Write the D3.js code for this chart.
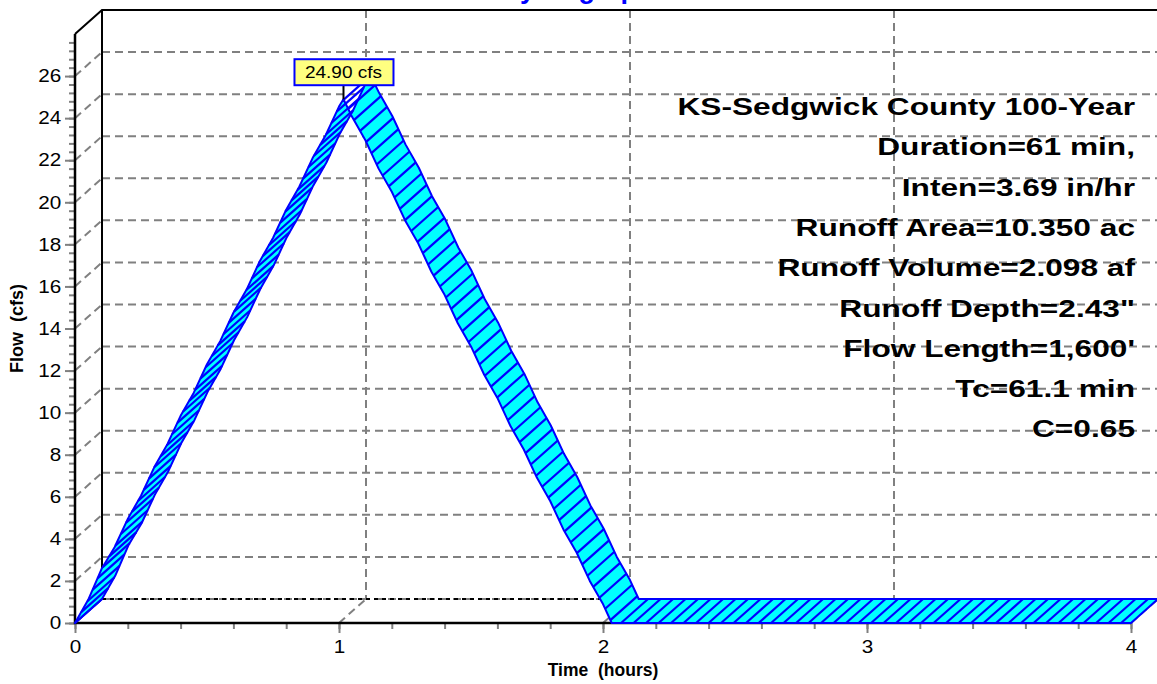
<!DOCTYPE html>
<html>
<head>
<meta charset="utf-8">
<script src="https://cdn.jsdelivr.net/npm/d3@7/dist/d3.min.js"></script>
<style>
body{margin:0;background:#fff;}
svg{display:block;}
text{font-family:Arial,"Liberation Sans",sans-serif;}
</style>
</head>
<body>
<script>
var width = 1157, height = 684;

// runoff hydrograph (hours, cfs)
var times = [0, 0.05, 0.10, 0.15, 0.20, 0.25, 0.30, 0.35, 0.40, 0.45, 0.50,
	0.55, 0.60, 0.65, 0.70, 0.75, 0.80, 0.85, 0.90, 0.95, 1.00, 1.017,
	1.05, 1.10, 1.15, 1.20, 1.25, 1.30, 1.35, 1.40, 1.45, 1.50, 1.55,
	1.60, 1.65, 1.70, 1.75, 1.80, 1.85, 1.90, 1.95, 2.00, 2.033, 4.00];
var flows = [0, 1.10, 2.55, 3.60, 4.95, 6.05, 7.40, 8.50, 9.85, 10.95, 12.30,
	13.40, 14.75, 15.85, 17.20, 18.30, 19.65, 20.75, 22.10, 23.20, 24.55, 24.90,
	24.05, 22.95, 21.60, 20.50, 19.15, 18.05, 16.70, 15.60, 14.25, 13.15, 11.80,
	10.70, 9.35, 8.25, 6.90, 5.80, 4.45, 3.35, 2.00, 0.90, 0, 0];

var peakTime = 1.017;
var peakFlow = 24.90;
var peakLabel = "24.90 cfs";

var xTicks = [0, 1, 2, 3, 4];
var yTicks = [0, 2, 4, 6, 8, 10, 12, 14, 16, 18, 20, 22, 24, 26];

var titleText = "Hydrograph";
var xTitle = "Time  (hours)";
var yTitle = "Flow  (cfs)";
var stats = ["KS-Sedgwick County 100-Year", "Duration=61 min,", "Inten=3.69 in/hr",
	"Runoff Area=10.350 ac", "Runoff Volume=2.098 af", "Runoff Depth=2.43\"",
	"Flow Length=1,600'", "Tc=61.1 min", "C=0.65"];

var grey = "#808080";
var dash = "8,5";
var dx = 27, dy = -24;   // depth of the 3D box

var x = d3.scaleLinear().domain([0, 4]).range([75, 1131]);
var y = d3.scaleLinear().domain([0, 28]).range([623, 34]);

var svg = d3.select("body").append("svg")
	.attr("width", width)
	.attr("height", height);

// ---- back walls and grid
var grid = svg.append("g")
	.attr("fill", "none")
	.attr("stroke", grey)
	.attr("stroke-width", 2)
	.attr("stroke-dasharray", dash);

grid.selectAll(".hgrid")
	.data(yTicks.filter(function(v) { return v > 0; }))
	.enter().append("line")
	.attr("x1", x(0) + dx).attr("x2", x(4) + dx + 10)
	.attr("y1", function(d) { return y(d) + dy; })
	.attr("y2", function(d) { return y(d) + dy; });

grid.selectAll(".ydiag")
	.data(yTicks)
	.enter().append("line")
	.attr("x1", x(0)).attr("x2", x(0) + dx)
	.attr("y1", function(d) { return y(d); })
	.attr("y2", function(d) { return y(d) + dy; });

grid.selectAll(".vgrid")
	.data(xTicks.filter(function(v) { return v > 0 && v < 4; }))
	.enter().append("line")
	.attr("x1", function(d) { return x(d) + dx; })
	.attr("x2", function(d) { return x(d) + dx; })
	.attr("y1", y(28) + dy).attr("y2", y(0) + dy);

grid.selectAll(".xdiag")
	.data(xTicks.filter(function(v) { return v > 0; }))
	.enter().append("line")
	.attr("x1", function(d) { return x(d); })
	.attr("x2", function(d) { return x(d) + dx; })
	.attr("y1", y(0)).attr("y2", y(0) + dy);

// floor line of the back wall
grid.append("line")
	.attr("x1", x(0) + dx).attr("x2", x(4) + dx)
	.attr("y1", y(0) + dy).attr("y2", y(0) + dy);
svg.append("line")
	.attr("x1", x(0) + dx).attr("x2", x(4) + dx)
	.attr("y1", y(0) + dy).attr("y2", y(0) + dy)
	.attr("stroke", "#000").attr("stroke-width", 2)
	.attr("stroke-dasharray", "4,4");

// solid frame: back wall edge, top edge
svg.append("path")
	.attr("d", d3.line()([[x(0), y(28)], [x(0) + dx, y(28) + dy], [x(4) + dx + 10, y(28) + dy]]))
	.attr("fill", "none").attr("stroke", "#000").attr("stroke-width", 2);
svg.append("line")
	.attr("x1", x(0) + dx).attr("x2", x(0) + dx)
	.attr("y1", y(28) + dy).attr("y2", y(0) + dy)
	.attr("stroke", "#000").attr("stroke-width", 2);

// ---- stats text
svg.append("g")
	.selectAll("text")
	.data(stats)
	.enter().append("text")
	.attr("transform", function(d, i) { return "translate(1135," + (115 + i * 40.3) + ") scale(1.32,1)"; })
	.attr("text-anchor", "end")
	.attr("font-size", 24)
	.attr("font-weight", "bold")
	.text(function(d) { return d; });

// ---- front axes
var yAxis = d3.axisLeft(y).tickValues(yTicks).tickSize(10).tickPadding(2).tickFormat(d3.format("d"));
var yMinor = d3.axisLeft(y).tickValues(d3.range(0, 27.7, 0.4)).tickSize(6).tickFormat("");
var xAxis = d3.axisBottom(x).tickValues(xTicks).tickSize(10).tickPadding(7).tickFormat(d3.format("d"));
var xMinor = d3.axisBottom(x).tickValues(d3.range(0, 4.01, 0.2)).tickSize(6).tickFormat("");

function styleAxis(g) {
	g.selectAll(".domain").remove();
	g.selectAll(".tick line").attr("stroke", grey).attr("stroke-width", 2);
	g.selectAll("text").attr("font-size", 18).attr("fill", "#000")
		.attr("font-family", "Arial, 'Liberation Sans', sans-serif");
}

svg.append("g").attr("transform", "translate(" + x(0) + ",0)").call(yMinor).call(styleAxis);
svg.append("g").attr("transform", "translate(" + x(0) + ",0)").call(yAxis).call(styleAxis)
	.selectAll("text").attr("transform", "scale(1.15,1)");
svg.append("g").attr("transform", "translate(0," + y(0) + ")").call(xMinor).call(styleAxis);
svg.append("g").attr("transform", "translate(0," + y(0) + ")").call(xAxis).call(styleAxis)
	.selectAll("text").attr("transform", "scale(1.15,1)").attr("x", 0);

svg.append("path")
	.attr("d", d3.line()([[x(0), y(28)], [x(0), y(0)], [x(4), y(0)]]))
	.attr("fill", "none").attr("stroke", "#000").attr("stroke-width", 2.5);

// ---- hydrograph ribbon
var front = times.map(function(t, i) { return [x(t), y(flows[i])]; });
var back = front.map(function(p) { return [p[0] + dx, p[1] + dy]; });
var ribbon = front.concat(back.slice().reverse());

svg.append("path")
	.attr("d", d3.line()(ribbon) + "Z")
	.attr("fill", "#00ffff")
	.attr("stroke", "none");

// hatch lines across the ribbon, evenly spaced along its front edge
function along(pts, step) {
	var out = [], acc = 0, next = 0;
	for (var i = 1; i < pts.length; i++) {
		var a = pts[i - 1], b = pts[i];
		var len = Math.hypot(b[0] - a[0], b[1] - a[1]);
		if (len === 0) continue;
		while (next <= acc + len) {
			var f = (next - acc) / len;
			out.push([a[0] + f * (b[0] - a[0]), a[1] + f * (b[1] - a[1])]);
			next += step;
		}
		acc += len;
	}
	return out;
}

svg.append("g")
	.selectAll("line")
	.data(along(front, 12.5))
	.enter().append("line")
	.attr("x1", function(d) { return d[0]; })
	.attr("y1", function(d) { return d[1]; })
	.attr("x2", function(d) { return d[0] + dx; })
	.attr("y2", function(d) { return d[1] + dy; })
	.attr("stroke", "#0000ff")
	.attr("stroke-width", 2.2);

svg.append("path")
	.attr("d", d3.line()(ribbon) + "Z")
	.attr("fill", "none")
	.attr("stroke", "#0000ff")
	.attr("stroke-width", 2)
	.attr("stroke-linejoin", "round");

// ---- peak label
var px = x(peakTime), py = y(peakFlow);
svg.append("line")
	.attr("x1", px).attr("x2", px)
	.attr("y1", py).attr("y2", py - 14)
	.attr("stroke", "#000").attr("stroke-width", 2);
svg.append("rect")
	.attr("x", px - 49).attr("y", py - 40)
	.attr("width", 99).attr("height", 26)
	.attr("fill", "#ffff80")
	.attr("stroke", "#0000ff").attr("stroke-width", 2);
svg.append("text")
	.attr("transform", "translate(" + px + "," + (py - 21) + ") scale(1.12,1)")
	.attr("text-anchor", "middle")
	.attr("font-size", 17)
	.text(peakLabel);

// ---- titles
svg.append("text")
	.attr("x", 577).attr("y", -2)
	.attr("text-anchor", "middle")
	.attr("font-size", 27)
	.attr("font-weight", "bold")
	.attr("fill", "#0000ff")
	.text(titleText);

svg.append("text")
	.attr("x", (x(0) + x(4)) / 2).attr("y", 676)
	.attr("text-anchor", "middle")
	.attr("font-size", 17.5)
	.attr("font-weight", "bold")
	.style("white-space", "pre")
	.text(xTitle);

svg.append("text")
	.attr("transform", "translate(23," + (y(0) + y(28)) / 2 + ") rotate(-90)")
	.attr("text-anchor", "middle")
	.attr("font-size", 18)
	.attr("font-weight", "bold")
	.style("white-space", "pre")
	.text(yTitle);
</script>
</body>
</html>
